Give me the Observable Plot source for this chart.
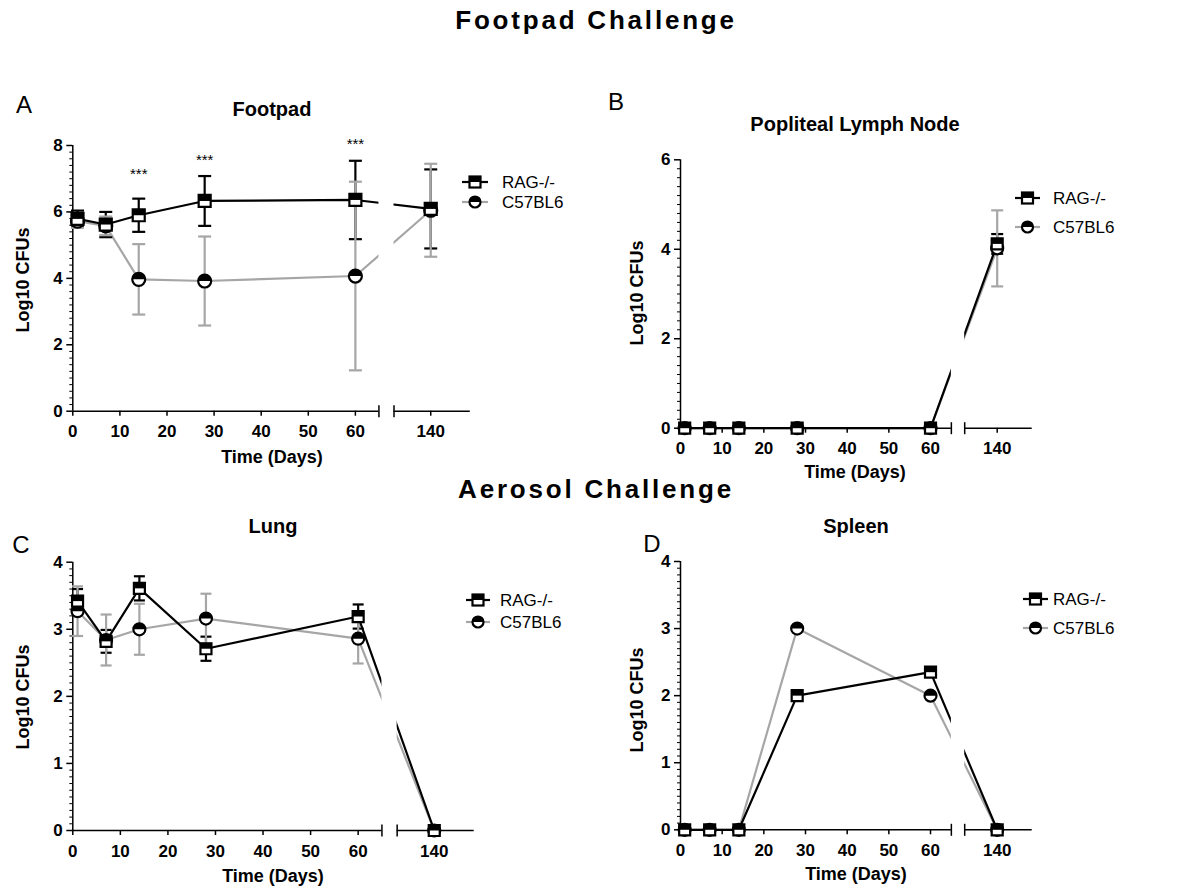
<!DOCTYPE html>
<html><head><meta charset="utf-8">
<script src="https://cdn.jsdelivr.net/npm/d3@7"></script>
<script src="https://cdn.jsdelivr.net/npm/@observablehq/plot@0.6"></script>
<style>
body{margin:0;background:#fff;}
#root{position:relative;width:1198px;height:888px;overflow:hidden;font-family:"Liberation Sans",Arial,sans-serif;color:#000;}
.t{position:absolute;white-space:nowrap;transform:translate(-50%,-50%);line-height:1;}
.main{font-size:26px;font-weight:bold;letter-spacing:2.8px;}
.ptitle{font-size:20px;font-weight:bold;}
.letter{font-size:24px;}
.xlab{font-size:18px;font-weight:bold;}
.ylab{font-size:18px;font-weight:bold;transform:translate(-50%,-50%) rotate(-90deg);}
.leg{position:absolute;font-size:17px;white-space:nowrap;line-height:1;transform:translateY(-50%);}
</style></head><body><div id="root"></div>
<script>
// ---------- data ----------
const days = [1, 7, 14, 28, 60, 140];
const tickDays = [0, 10, 20, 30, 40, 50, 60, 140];
const seriesNames = ["RAG-/-", "C57BL6"];

const footpadRag = [5.79, 5.62, 5.90, 6.33, 6.36, 6.09];
const footpadRagSd = [0.25, 0.38, 0.50, 0.75, 1.18, 1.19];
const footpadC57 = [5.72, 5.58, 3.97, 3.92, 4.07, 6.05];
const footpadC57Sd = [0.20, 0.28, 1.06, 1.34, 2.84, 1.40];
const starDays = [14, 28, 60];
const starY = [7.15, 7.55, 8.03];

const lymphRag = [0, 0, 0, 0, 0, 4.12];
const lymphRagSd = [0, 0, 0, 0, 0, 0.22];
const lymphC57 = [0, 0, 0, 0, 0, 4.02];
const lymphC57Sd = [0, 0, 0, 0, 0, 0.85];

const lungRag = [3.42, 2.82, 3.61, 2.71, 3.19, 0];
const lungRagSd = [0.18, 0.17, 0.18, 0.18, 0.18, 0];
const lungC57 = [3.27, 2.84, 3.00, 3.16, 2.86, 0];
const lungC57Sd = [0.37, 0.38, 0.38, 0.37, 0.37, 0];

const spleenRag = [0, 0, 0, 2.0, 2.35, 0];
const spleenC57 = [0, 0, 0, 3.0, 2.0, 0];

// ---------- helpers ----------
const GRAY = "#a6a6a6", BLACK = "#000";
const bx = d => (d > 65 ? d - 64 : d);     // broken axis: 132..148 -> 68..84
const ux = v => (v > 65 ? v + 64 : v);
const axisSegments = [{from: 0, to: 65}, {from: 132.2, to: 148.4}];
const breakEnds = [65, 132.2];

const rad = size => Math.sqrt(size / Math.PI);
const symHLine = {draw(c, s) { const r = rad(s); c.moveTo(-r, 0); c.lineTo(r, 0); }};
const symVLine = {draw(c, s) { const r = rad(s); c.moveTo(0, -r); c.lineTo(0, r); }};
const symSquare = {draw(c, s) { const r = rad(s); c.rect(-r, -r, 2 * r, 2 * r); }};
const symSquareTop = {draw(c, s) { const r = rad(s); c.rect(-r, -r, 2 * r, r); }};
const symCircle = {draw(c, s) { const r = rad(s); c.moveTo(r, 0); c.arc(0, 0, r, 0, 2 * Math.PI); }};
const symCircleTop = {draw(c, s) { const r = rad(s); c.moveTo(-r, 0); c.arc(0, 0, r, Math.PI, 2 * Math.PI); c.closePath(); }};

const root = document.getElementById("root");

function panel(cfg) {
  const {rag, ragSd, c57, c57Sd, ymax, major, minorStep, left, top, width, height, mL, mR, mT, mB, r, capR, stars} = cfg;
  const mk = (vals, sds) => days.map((d, i) => ({x: bx(d), y: vals[i], sd: sds ? sds[i] : 0}));
  const R = mk(rag, ragSd), C = mk(c57, c57Sd);
  const majorTicks = d3.range(0, ymax + 1e-9, major);
  const nMinor = Math.round(ymax / minorStep);
  const minor = d3.range(0, nMinor + 1).map(i => +(i * minorStep).toFixed(4))
    .filter(v => Math.abs(v / major - Math.round(v / major)) > 1e-6);
  const caps = arr => arr.filter(d => d.sd > 0).flatMap(d => [{x: d.x, y: d.y - d.sd}, {x: d.x, y: d.y + d.sd}]);
  const bars = arr => arr.filter(d => d.sd > 0);
  const marks = [
    Plot.line(C, {x: "x", y: "y", stroke: GRAY, strokeWidth: 2.2}),
    Plot.line(R, {x: "x", y: "y", stroke: BLACK, strokeWidth: 2.2}),
    Plot.rect([0], {x1: bx(65), x2: bx(132.2), y1: 0, y2: ymax, fill: "white"}),
    Plot.ruleX([0], {y1: 0, y2: ymax, stroke: BLACK, strokeWidth: 1.5}),
    Plot.ruleY(axisSegments, {x1: d => bx(d.from), x2: d => bx(d.to), y: 0, stroke: BLACK, strokeWidth: 1.5}),
    Plot.dot(breakEnds, {x: d => bx(d), y: 0, symbol: symVLine, r: 6, fill: "none", stroke: BLACK, strokeWidth: 1.5}),
    Plot.axisY({ticks: majorTicks, tickFormat: d => String(d), tickSize: 6, tickPadding: 4, fontSize: 17, fontWeight: "bold", strokeWidth: 1.5, label: null}),
    Plot.axisY({ticks: minor, tickSize: 3, tickFormat: () => "", strokeWidth: 1, label: null}),
    Plot.axisX({ticks: tickDays.map(bx), tickFormat: v => String(ux(v)), tickSize: 5, tickPadding: 9, fontSize: 17, fontWeight: "bold", strokeWidth: 1.5, label: null}),
    Plot.ruleX(bars(R), {x: "x", y1: d => d.y - d.sd, y2: d => d.y + d.sd, stroke: BLACK, strokeWidth: 2.2}),
    Plot.dot(caps(R), {x: "x", y: "y", symbol: symHLine, r: capR, fill: "none", stroke: BLACK, strokeWidth: 2.2}),
    Plot.ruleX(bars(C), {x: "x", y1: d => d.y - d.sd, y2: d => d.y + d.sd, stroke: GRAY, strokeWidth: 2.2}),
    Plot.dot(caps(C), {x: "x", y: "y", symbol: symHLine, r: capR, fill: "none", stroke: GRAY, strokeWidth: 2.2}),
    Plot.dot(C, {x: "x", y: "y", symbol: symCircle, r: r, fill: "white", stroke: BLACK, strokeWidth: 2.2}),
    Plot.dot(C, {x: "x", y: "y", symbol: symCircleTop, r: r, fill: BLACK, stroke: "none"}),
    Plot.dot(R, {x: "x", y: "y", symbol: symSquare, r: r - 0.5, fill: "white", stroke: BLACK, strokeWidth: 2.2}),
    Plot.dot(R, {x: "x", y: "y", symbol: symSquareTop, r: r - 0.5, fill: BLACK, stroke: "none"})
  ];
  if (stars) marks.push(Plot.text(stars, {x: d => bx(d.day), y: "y", text: () => "***", fontSize: 15, fontWeight: "normal"}));
  const svg = Plot.plot({
    width, height, marginLeft: mL, marginRight: mR, marginTop: mT, marginBottom: mB,
    x: {domain: [0, 84.4]},
    y: {domain: [0, ymax]},
    style: {fontFamily: "'Liberation Sans', Arial, sans-serif", fontSize: "17px", fontWeight: "bold", overflow: "visible", background: "transparent", color: "#000"},
    marks
  });
  svg.style.position = "absolute";
  svg.style.left = left + "px";
  svg.style.top = top + "px";
  root.appendChild(svg);
}

function text(str, cls, x, y) {
  const d = document.createElement("div");
  d.className = "t " + cls;
  d.textContent = str;
  d.style.left = x + "px";
  d.style.top = y + "px";
  root.appendChild(d);
}

function legendEntry(name, color, kind, x0, x1, y, tx) {
  const w = x1 - x0 + 4, h = 18;
  const svg = d3.create("svg").attr("width", w).attr("height", h)
    .style("position", "absolute").style("left", (x0 - 2) + "px").style("top", (y - h / 2) + "px");
  const cx = w / 2, cy = h / 2, r = 5.5;
  svg.append("line").attr("x1", 2).attr("x2", w - 2).attr("y1", cy).attr("y2", cy).attr("stroke", color).attr("stroke-width", 2.2);
  if (kind === "square") {
    svg.append("rect").attr("x", cx - r).attr("y", cy - r).attr("width", 2 * r).attr("height", 2 * r).attr("fill", "white").attr("stroke", BLACK).attr("stroke-width", 2.2);
    svg.append("rect").attr("x", cx - r).attr("y", cy - r).attr("width", 2 * r).attr("height", r).attr("fill", BLACK);
  } else {
    svg.append("circle").attr("cx", cx).attr("cy", cy).attr("r", r).attr("fill", "white").attr("stroke", BLACK).attr("stroke-width", 2.2);
    svg.append("path").attr("d", `M${cx - r},${cy}A${r},${r} 0 0 1 ${cx + r},${cy}Z`).attr("fill", BLACK);
  }
  root.appendChild(svg.node());
  const d = document.createElement("div");
  d.className = "leg";
  d.textContent = name;
  d.style.left = tx + "px";
  d.style.top = y + "px";
  root.appendChild(d);
}
function legend(x0, x1, y1, y2, tx) {
  legendEntry(seriesNames[0], BLACK, "square", x0, x1, y1, tx);
  legendEntry(seriesNames[1], GRAY, "circle", x0, x1, y2, tx);
}

// ---------- panels ----------
panel({rag: footpadRag, ragSd: footpadRagSd, c57: footpadC57, c57Sd: footpadC57Sd, ymax: 8, major: 2, minorStep: 0.2,
  left: 0, top: 90, width: 599, height: 390, mL: 72.3, mR: 129.2, mT: 55, mB: 69.3, r: 6.5, capR: 6.5,
  stars: starDays.map((d, i) => ({day: d, y: starY[i]}))});
panel({rag: lymphRag, ragSd: lymphRagSd, c57: lymphC57, c57Sd: lymphC57Sd, ymax: 6, major: 2, minorStep: 0.2,
  left: 599, top: 90, width: 599, height: 390, mL: 81, mR: 166.3, mT: 69.3, mB: 52.3, r: 6, capR: 6});
panel({rag: lungRag, ragSd: lungRagSd, c57: lungC57, c57Sd: lungC57Sd, ymax: 4, major: 1, minorStep: 0.1,
  left: 0, top: 480, width: 599, height: 408, mL: 72.3, mR: 125.3, mT: 81.7, mB: 58, r: 6, capR: 5.5});
panel({rag: spleenRag, c57: spleenC57, ymax: 4, major: 1, minorStep: 0.1,
  left: 599, top: 480, width: 599, height: 408, mL: 81, mR: 166.3, mT: 81, mB: 58.7, r: 6, capR: 5.5});

// ---------- texts ----------
text("Footpad Challenge", "main", 596, 20);
text("Aerosol Challenge", "main", 596, 489);

text("A", "letter", 24, 105);
text("B", "letter", 616, 102);
text("C", "letter", 21, 545);
text("D", "letter", 652, 544);

text("Footpad", "ptitle", 272, 109);
text("Popliteal Lymph Node", "ptitle", 855, 124);
text("Lung", "ptitle", 273, 526);
text("Spleen", "ptitle", 856, 526);

text("Time (Days)", "xlab", 272, 457);
text("Time (Days)", "xlab", 855, 472);
text("Time (Days)", "xlab", 273, 876);
text("Time (Days)", "xlab", 856, 874);

text("Log10 CFUs", "ylab", 23, 280);
text("Log10 CFUs", "ylab", 637, 293);
text("Log10 CFUs", "ylab", 23, 697);
text("Log10 CFUs", "ylab", 637, 700);

legend(462, 488, 182, 202, 502);
legend(1015, 1040, 198, 227, 1053);
legend(466, 490, 600, 622, 500);
legend(1023, 1048, 599, 628, 1053);
</script></body></html>
